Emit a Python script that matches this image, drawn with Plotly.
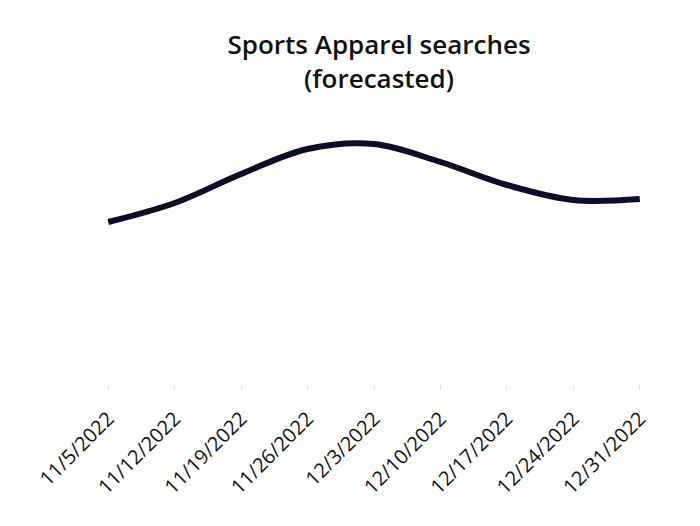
import plotly.graph_objects as go

dates = ["11/5/2022", "11/12/2022", "11/19/2022", "11/26/2022", "12/3/2022",
         "12/10/2022", "12/17/2022", "12/24/2022", "12/31/2022"]
searches = [162, 181, 210, 235, 240, 222, 199, 184, 185]

fig = go.Figure()
fig.add_trace(go.Scatter(
    x=dates, y=searches, mode="lines",
    line=dict(color="#0c0d28", width=6, shape="spline", smoothing=1.0),
    hoverinfo="skip", showlegend=False,
))

fig.update_layout(
    width=700, height=526,
    margin=dict(l=75, r=27, t=110, b=142),
    paper_bgcolor="white", plot_bgcolor="white",
    title=dict(
        text="Sports Apparel searches<br>(forecasted)",
        x=379 / 700, xanchor="center", xref="container",
        y=1 - 54 / 526, yanchor="top", yref="container",
        font=dict(family="Open Sans", size=26, color="#111111", weight=600),
    ),
    xaxis=dict(
        type="category", range=[-0.5, 8.5],
        showgrid=False, zeroline=False, showline=False,
        ticks="outside", ticklen=4, tickcolor="#dddddd", tickwidth=1,
        tickangle=-45, ticklabelstandoff=10,
        tickfont=dict(family="Open Sans", size=20, color="#111111"),
    ),
    yaxis=dict(
        range=[0, 274], visible=False, showgrid=False, zeroline=False,
    ),
)

fig.write_html("out.html")
